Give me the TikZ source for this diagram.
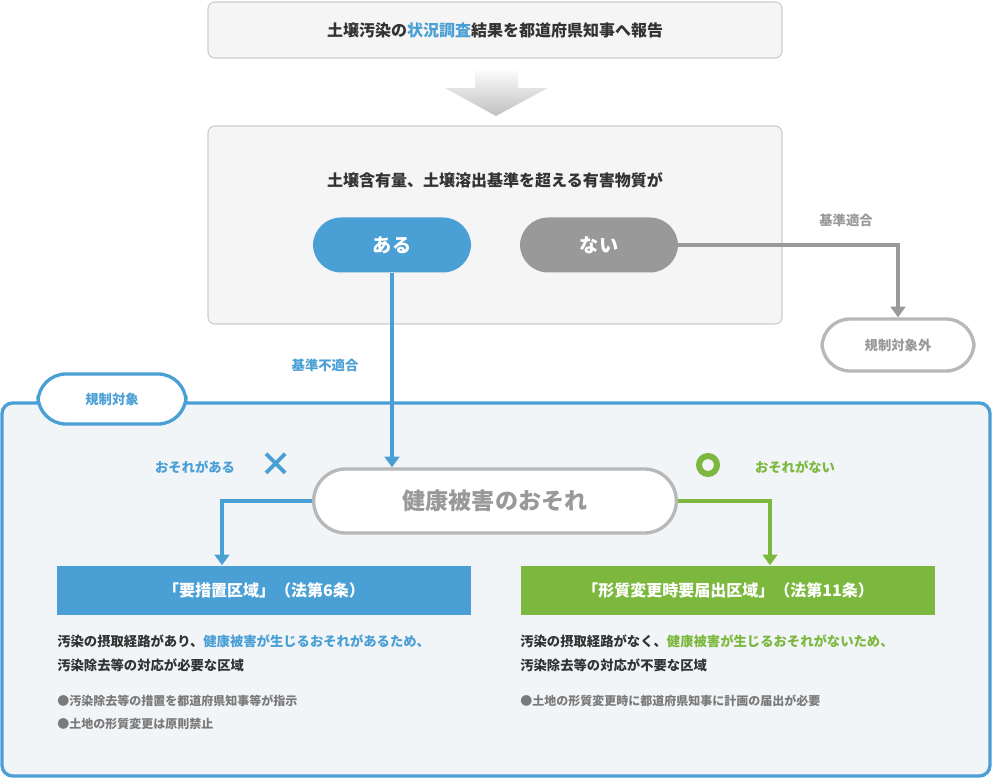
\documentclass[tikz,border=0pt]{standalone}
\usepackage{fontspec}
\setmainfont{Noto Sans CJK JP}
\usetikzlibrary{positioning,arrows.meta}
\definecolor{blu}{RGB}{74,159,213}
\definecolor{grn}{RGB}{124,184,62}
\definecolor{gry}{RGB}{153,153,153}
\definecolor{txt}{RGB}{51,51,51}
\definecolor{pale}{RGB}{245,245,245}
\definecolor{area}{RGB}{242,245,248}
\tikzset{
  panel/.style={draw={rgb,255:red,204;green,204;blue,204},fill=pale,rounded corners=5pt,line width=0.8pt},
  pill/.style={rounded corners=21pt,minimum height=41.25pt,font=\bfseries\Large,text=white},
  tag/.style={minimum height=36.75pt,minimum width=310.5pt,font=\bfseries\large,text=white},
  flow/.style={line width=3.5pt,-{Triangle[length=8pt,width=11pt]}},
  note/.style={anchor=west,font=\bfseries,text=txt,inner sep=0pt},
  small/.style={anchor=west,font=\small\bfseries,text=gry!80!black,inner sep=0pt}
}
\begin{document}
\begin{tikzpicture}[x=0.75pt,y=0.75pt,yscale=-1,xscale=1]
\useasboundingbox (0,0) rectangle (992,780);

% top report box
\draw[panel] (208,2) rectangle (782,58);
\node[font=\bfseries\large,text=txt] (report) at (495,30) {土壌汚染の\textcolor{blu}{状況調査}結果を都道府県知事へ報告};
% big arrow
\shade[top color=white,bottom color=black!25] (475,68) -- (518,68) -- (518,88) -- (548,88) -- (496,116) -- (445,88) -- (475,88) -- cycle;

% judgement box
\draw[panel] (208,126) rectangle (782,324);
\node[font=\bfseries\large,text=txt] (question) at (495,180) {土壌含有量、土壌溶出基準を超える有害物質が};
\node[pill,fill=blu,minimum width=118.5pt] (yes) at (392,245) {ある};
\node[pill,fill=gry,minimum width=118.5pt] (no) at (599,245) {ない};

% outside regulation
\node[pill,draw=gry!70,line width=2.5pt,fill=white,text=gry,font=\bfseries\normalsize,minimum width=114pt,minimum height=39pt] (outside) at (898,345) {規制対象外};
\draw[flow,gry] (no.east) -| (outside.north);
\node[font=\bfseries,text=gry] (ok) at (846,220) {基準適合};

% regulated area
\draw[blu,line width=2.5pt,fill=area,rounded corners=8pt] (2,403) rectangle (990,776);
\node[pill,draw=blu,line width=2.5pt,fill=white,text=blu,font=\bfseries\normalsize,minimum width=111pt,minimum height=37.5pt] (target) at (112,399) {規制対象};

% health risk
\node[pill,draw=gry!70,line width=2.5pt,fill=white,text=gry,font=\bfseries\LARGE,minimum width=272pt,minimum height=48pt,rounded corners=24pt] (risk) at (495,501) {健康被害のおそれ};
\draw[flow,blu] (yes.south) -- (risk.north -| yes.south);
\node[font=\bfseries,text=blu] (ng) at (325,365) {基準不適合};

\node[font=\bfseries,text=blu] (riskyes) at (195,467) {おそれがある};
\node[text=blu,font=\bfseries\Huge] (cross) at (276,465) {×};
\draw[grn,line width=4.5pt] (708,465) circle (9);
\node[font=\bfseries,text=grn] (riskno) at (795,467) {おそれがない};

% zones
\node[tag,fill=blu] (zone1) at (264,590) {「要措置区域」（法第6条）};
\node[tag,fill=grn] (zone2) at (728,590) {「形質変更時要届出区域」（法第11条）};
\draw[flow,blu] (risk.west) -| (zone1.north -| 222,0);
\draw[flow,grn] (risk.east) -| (zone2.north -| 770,0);

% descriptions
\node[note] (d1a) at (57,641) {汚染の摂取経路があり、\textcolor{blu}{健康被害が生じるおそれがあるため、}};
\node[note] (d1b) at (57,665) {汚染除去等の対応が必要な区域};
\node[small] (b1a) at (57,701) {●汚染除去等の措置を都道府県知事等が指示};
\node[small] (b1b) at (57,724) {●土地の形質変更は原則禁止};
\node[note] (d2a) at (520,641) {汚染の摂取経路がなく、\textcolor{grn}{健康被害が生じるおそれがないため、}};
\node[note] (d2b) at (520,665) {汚染除去等の対応が不要な区域};
\node[small] (b2a) at (520,701) {●土地の形質変更時に都道府県知事に計画の届出が必要};
\end{tikzpicture}
\end{document}
